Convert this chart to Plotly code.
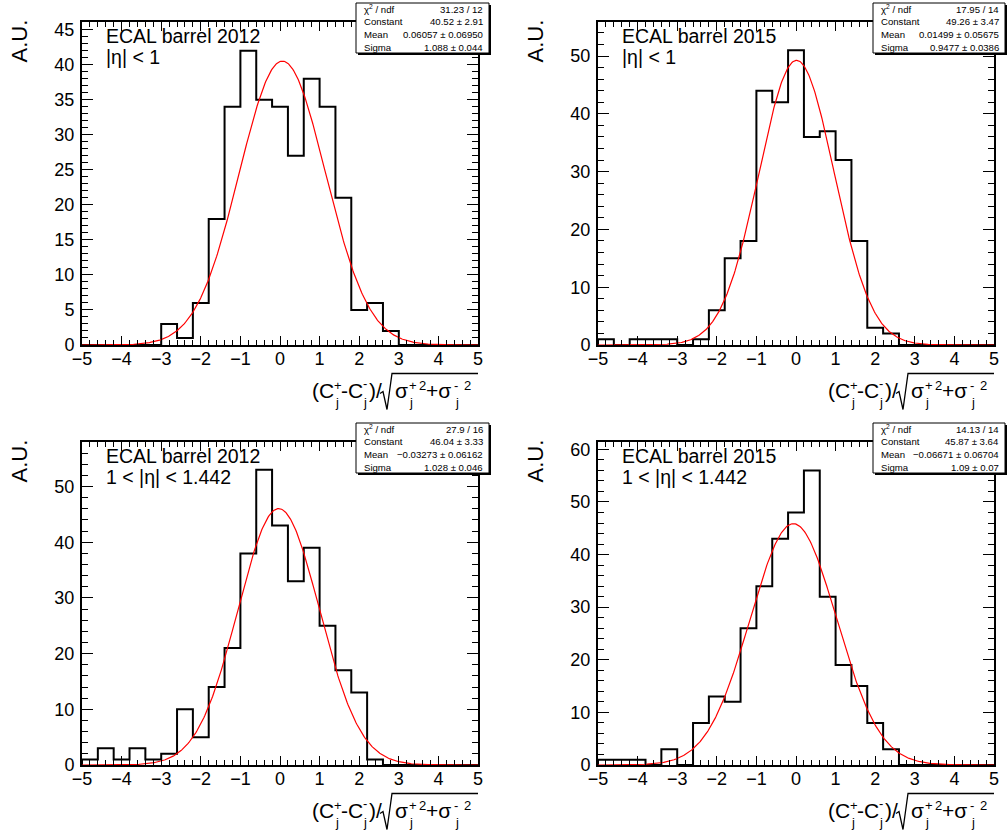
import numpy as np
import plotly.graph_objects as go

W, H = 1007, 839
FONT = "Liberation Sans, Arial, Helvetica, sans-serif"

# ---- data (bin width 0.4 from -5 to 5, 25 bins) ----
bin_lo, bin_hi, bin_w = -5.0, 5.0, 0.4

counts_2012_eta1 = [0, 0, 0, 0, 0, 3, 1, 6, 18, 34, 42, 35, 34, 27, 38, 34, 21, 5, 6, 2, 0, 0, 0, 0, 0]
counts_2015_eta1 = [1, 0, 1, 1, 1, 0, 1, 6, 15, 18, 44, 42, 51, 36, 37, 32, 18, 3, 2, 0, 0, 0, 0, 0, 0]
counts_2012_eta2 = [1, 3, 1, 3, 1, 2, 10, 5, 14, 21, 38, 53, 43, 33, 39, 25, 17, 13, 1, 0, 0, 0, 0, 0, 0]
counts_2015_eta2 = [1, 1, 1, 0, 3, 0, 8, 13, 12, 26, 34, 43, 48, 56, 32, 19, 15, 8, 3, 0, 0, 0, 0, 0, 0]

# Gaussian fit parameters (Constant, Mean, Sigma) as printed in the stat boxes
fit_const = [40.52, 49.26, 46.04, 45.87]
fit_mean = [0.06057, 0.01499, -0.03273, -0.06671]
fit_sigma = [1.088, 0.9477, 1.028, 1.09]

stat_chi2 = ["31.23 / 12", "17.95 / 14", "27.9 / 16", "14.13 / 14"]
stat_const = ["40.52 ± 2.91", "49.26 ± 3.47", "46.04 ± 3.33", "45.87 ± 3.64"]
stat_mean = ["0.06057 ± 0.06950", "0.01499 ± 0.05675", "−0.03273 ± 0.06162", "−0.06671 ± 0.06704"]
stat_sigma = ["1.088 ± 0.044", "0.9477 ± 0.0386", "1.028 ± 0.046", "1.09 ± 0.07"]

titles_year = ["ECAL barrel 2012", "ECAL barrel 2015", "ECAL barrel 2012", "ECAL barrel 2015"]
titles_eta = ["|η| < 1", "|η| < 1", "1 < |η| < 1.442", "1 < |η| < 1.442"]

y_max = [46.1, 55.9, 58.0, 61.4]
y_major = [5, 10, 10, 10]
y_minor = [1, 2, 2, 2]

all_counts = [counts_2012_eta1, counts_2015_eta1, counts_2012_eta2, counts_2015_eta2]

# x-axis title pieces: (text, x offset px, y offset px, font size)
title_pieces = [
    ("(C", 0, 0, 21), ("+", 22, -5, 13), ("j", 23, 12, 13),
    ("-C", 29, 0, 21), ("-", 51, -7, 13), ("j", 51, 12, 13),
    (")/", 57, 0, 21),
    ("σ", 83, 0, 21), ("+", 97, -5, 13), ("2", 107, -5, 13), ("j", 97, 12, 13),
    ("+σ", 114, 0, 21), ("-", 142, -5, 13), ("2", 152, -5, 13), ("j", 143, 12, 13),
]

# ---- layout geometry (pixels) ----
x_dom_px = [(82, 478), (598, 994)]
y_dom_px = [(22, 345), (442, 765)]
box_px = [(356, 489), (873, 1005)]
box_top_px = [3, 423]


def px_x(v):
    return v / W


def px_y(v):
    return 1 - v / H


edges = bin_lo + bin_w * np.arange(len(counts_2012_eta1) + 1)

fig = go.Figure()
shapes = []
annotations = []

for i in range(4):
    r, c = divmod(i, 2)
    sfx = "" if i == 0 else str(i + 1)
    counts = all_counts[i]
    xs, ys = [edges[0]], [0]
    for k, v in enumerate(counts):
        xs += [edges[k], edges[k + 1]]
        ys += [v, v]
    xs.append(edges[-1])
    ys.append(0)
    fig.add_trace(go.Scatter(x=xs, y=ys, mode="lines",
                             line=dict(color="black", width=2),
                             xaxis="x" + sfx, yaxis="y" + sfx,
                             showlegend=False, hoverinfo="skip"))
    xf = np.linspace(bin_lo, bin_hi, 501)
    yf = fit_const[i] * np.exp(-0.5 * ((xf - fit_mean[i]) / fit_sigma[i]) ** 2)
    fig.add_trace(go.Scatter(x=xf, y=yf, mode="lines",
                             line=dict(color="#ff0000", width=1.2),
                             xaxis="x" + sfx, yaxis="y" + sfx,
                             showlegend=False, hoverinfo="skip"))

    x0, x1 = x_dom_px[c]
    y0, y1 = y_dom_px[r]
    common = dict(showline=True, linecolor="black", linewidth=2, mirror="allticks",
                  ticks="inside", tickcolor="black", showgrid=False, zeroline=False,
                  automargin=False,
                  tickfont=dict(family=FONT, size=18, color="black"))
    fig.layout["xaxis" + sfx] = dict(domain=[px_x(x0), px_x(x1)], range=[bin_lo, bin_hi],
                                     anchor="y" + sfx, tick0=0, dtick=1, ticklen=9, tickwidth=1,
                                     minor=dict(dtick=0.2, ticklen=5, tickwidth=1, ticks="inside",
                                                tickcolor="black", showgrid=False),
                                     ticklabelstandoff=-4, **common)
    fig.layout["yaxis" + sfx] = dict(domain=[px_y(y1), px_y(y0)], range=[0, y_max[i]],
                                     anchor="x" + sfx, tick0=0, dtick=y_major[i], ticklen=11,
                                     tickwidth=1,
                                     minor=dict(dtick=y_minor[i], ticklen=6, tickwidth=1, ticks="inside",
                                                tickcolor="black", showgrid=False),
                                     ticklabelstandoff=2, **common)

    # stat box
    bx0, bx1 = box_px[c]
    by0 = box_top_px[r]
    by1 = by0 + 50
    shapes.append(dict(type="rect", xref="paper", yref="paper",
                       x0=px_x(bx0 + 2), x1=px_x(bx1 + 2), y0=px_y(by1 + 2), y1=px_y(by0 + 2),
                       fillcolor="black", line=dict(width=0), layer="above"))
    shapes.append(dict(type="rect", xref="paper", yref="paper",
                       x0=px_x(bx0), x1=px_x(bx1), y0=px_y(by1), y1=px_y(by0),
                       fillcolor="white", line=dict(color="black", width=1), layer="above"))
    rows = [("χ<sup>2</sup> / ndf", stat_chi2[i]), ("Constant", stat_const[i]),
            ("Mean", stat_mean[i]), ("Sigma", stat_sigma[i])]
    for j, (lab, val) in enumerate(rows):
        yc = by0 + 6.3 + 12.6 * j
        annotations.append(dict(text=lab, x=px_x(bx0 + 6), y=px_y(yc), xref="paper", yref="paper",
                                xanchor="left", yanchor="middle", showarrow=False,
                                font=dict(family=FONT, size=9.6, color="black")))
        annotations.append(dict(text=val, x=px_x(bx1 - 4), y=px_y(yc), xref="paper", yref="paper",
                                xanchor="right", yanchor="middle", showarrow=False,
                                font=dict(family=FONT, size=9.6, color="black")))

    # panel labels
    annotations.append(dict(text=titles_year[i], x=px_x(x0 + 22), y=px_y(y0 + 14),
                            xref="paper", yref="paper", xanchor="left", yanchor="middle",
                            showarrow=False, font=dict(family=FONT, size=19.5, color="black")))
    annotations.append(dict(text=titles_eta[i], x=px_x(x0 + 22), y=px_y(y0 + 35),
                            xref="paper", yref="paper", xanchor="left", yanchor="middle",
                            showarrow=False, font=dict(family=FONT, size=19.5, color="black")))

    # y title
    annotations.append(dict(text="A.U.", textangle=-90, x=px_x(x0 - 63), y=px_y(y0 - 4),
                            xref="paper", yref="paper", xanchor="center", yanchor="top",
                            showarrow=False, font=dict(family=FONT, size=22, color="black")))

    # x title, built from pieces so that super/subscripts stack as in the original
    sx = x1 - 168
    yc = y1 + 45.5
    for txt, dx, dy, sz in title_pieces:
        annotations.append(dict(text=txt, x=px_x(sx + dx), y=px_y(yc + dy), xref="paper",
                                yref="paper", xanchor="left", yanchor="middle", showarrow=False,
                                font=dict(family=FONT, size=sz, color="black")))
    # radical sign + overline
    rx = sx + 70
    path = "M {},{} L {},{} L {},{} L {},{} L {},{}".format(
        px_x(rx), px_y(yc + 3), px_x(rx + 3), px_y(yc + 1), px_x(rx + 7), px_y(yc + 19),
        px_x(rx + 12), px_y(yc - 17), px_x(x1), px_y(yc - 17))
    shapes.append(dict(type="path", xref="paper", yref="paper", path=path,
                       line=dict(color="black", width=1.3)))

fig.update_layout(width=W, height=H, margin=dict(l=0, r=0, t=0, b=0, autoexpand=False),
                  paper_bgcolor="white", plot_bgcolor="white",
                  shapes=shapes, annotations=annotations, showlegend=False)
fig.write_html("out.html")
